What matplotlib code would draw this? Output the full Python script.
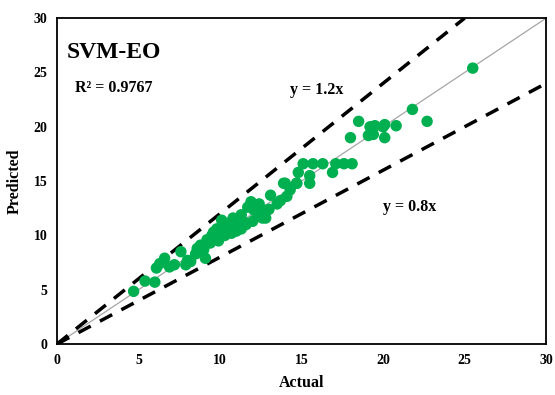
import numpy as np
import matplotlib
matplotlib.use("Agg")
import matplotlib.pyplot as plt

plt.rcParams['font.family'] = ['Liberation Serif', 'DejaVu Serif']
plt.rcParams['font.weight'] = 'bold'

actual = [4.7, 5.4, 6.0, 6.1, 6.3, 6.6, 6.9, 7.2, 7.6, 7.9, 8.0, 8.2, 8.5, 8.9, 9.1,
          8.8, 9.2, 9.5, 9.6, 9.8, 10.1, 10.2, 10.4, 10.6, 10.9, 11.2, 11.3, 11.3, 10.0, 10.5,
          11.7, 11.9, 12.1, 12.3, 12.6, 12.8, 12.8, 13.1, 13.5, 13.7, 13.9, 14.0, 14.1, 14.3,
          14.7, 14.8, 15.5, 15.5, 16.9, 14.7, 15.1, 15.7, 16.3, 17.1, 17.6, 18.1,
          18.0, 18.5, 19.1, 19.2, 19.4, 19.5, 20.1, 20.0, 20.8, 20.1, 21.8, 22.7, 25.5,
          9.0, 9.4, 10.0, 10.7, 11.0, 11.6, 12.0, 10.3, 10.8, 9.9, 8.6, 11.5, 12.4, 13.0]
predicted = [4.85, 5.8, 5.7, 7.0, 7.4, 7.9, 7.1, 7.3, 8.5, 7.3, 7.7, 7.6, 8.3, 9.0, 7.9,
             9.1, 9.6, 10.0, 10.3, 10.6, 11.4, 10.5, 11.1, 10.5, 11.1, 10.8, 10.6, 11.9, 9.8, 10.9,
             12.6, 13.1, 12.3, 11.9, 11.6, 12.3, 11.6, 13.7, 12.9, 13.2, 14.8, 14.8, 13.6, 14.2,
             14.8, 15.8, 15.5, 14.8, 15.8, 14.8, 16.6, 16.6, 16.6, 16.6, 16.6, 16.6,
             19.0, 20.5, 19.2, 20.0, 19.3, 20.1, 19.0, 20.0, 20.1, 20.2, 21.6, 20.5, 25.4,
             8.7, 9.3, 10.4, 10.2, 10.4, 11.0, 11.3, 10.0, 11.6, 9.5, 8.8, 11.2, 12.9, 12.4]

fig = plt.figure(figsize=(5.55, 3.95), dpi=100)
ax = fig.add_axes([0.1027, 0.129, 0.8813, 0.825])

lim = np.array([0, 30])
ax.plot(lim, lim, color='#a6a6a6', lw=0.9, zorder=1)
ax.plot([0, 25], [0, 30], color='black', lw=2.5, ls=(0, (4, 3)), zorder=2)
ax.plot([0, 30], [0, 24], color='black', lw=2.5, ls=(0, (4, 3)), zorder=2)
ax.scatter(actual, predicted, s=68, color='#00B050', edgecolors='none', zorder=3)

ax.set_xlim(0, 30)
ax.set_ylim(0, 30)
ax.set_xticks(range(0, 31, 5))
ax.set_yticks(range(0, 31, 5))
ax.tick_params(length=0, labelsize=10, pad=7)
for s in ax.spines.values():
    s.set_linewidth(1.3)

ax.set_xlabel('Actual', fontsize=11.5, fontweight='bold', labelpad=6)
ax.set_ylabel('Predicted', fontsize=11.5, fontweight='bold', labelpad=8)

ax.text(0.6, 26.8, 'SVM-EO', fontsize=17, fontweight='bold', va='center')
ax.text(1.1, 23.6, 'R² = 0.9767', fontsize=11.5, fontweight='bold', va='center')
ax.text(14.3, 23.4, 'y = 1.2x', fontsize=11.5, fontweight='bold', va='center')
ax.text(20.0, 12.6, 'y = 0.8x', fontsize=11.5, fontweight='bold', va='center')

fig.savefig('out.png', dpi=100)
